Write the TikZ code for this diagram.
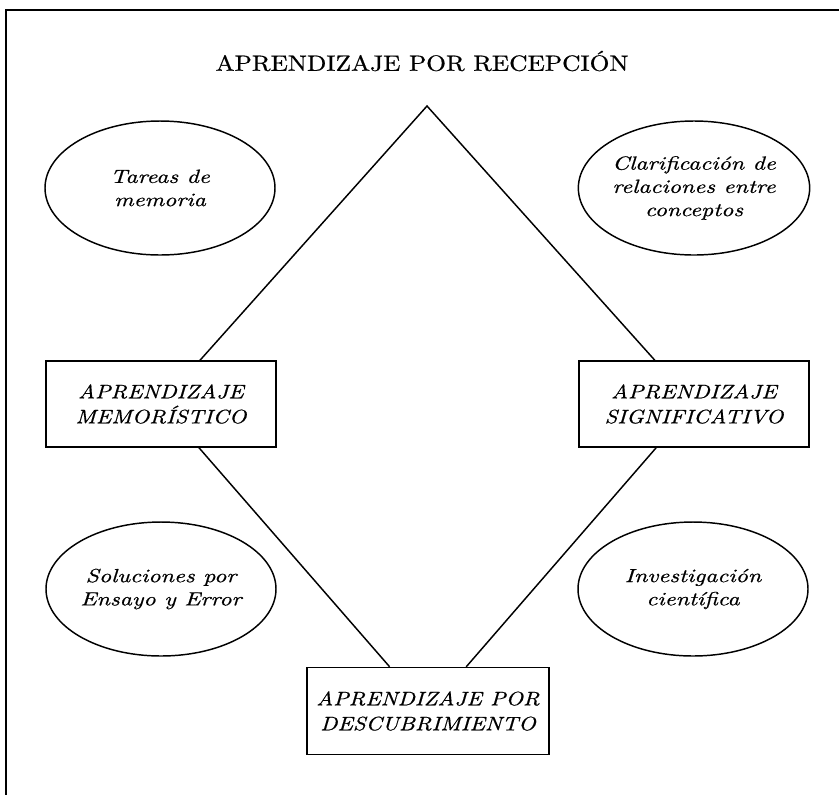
\documentclass[tikz,border=0pt]{standalone}
\usepackage{fontspec}
\newfontfamily\widefont{lmroman10-regular}[Extension=.otf,ItalicFont=lmroman10-italic,FakeStretch=1.25,FakeBold=0.6]
\newfontfamily\boxfont{lmroman10-regular}[Extension=.otf,ItalicFont=lmroman10-italic,FakeStretch=1.17,FakeBold=0.6]
\newfontfamily\titlefont{lmroman10-regular}[Extension=.otf,FakeStretch=1.155,FakeBold=0.6]
\usetikzlibrary{shapes.geometric}
\begin{document}
\begin{tikzpicture}[x=0.75pt,y=-0.75pt,
  conn/.style={draw=black,line width=1.1pt},
  frameline/.style={draw=black,line width=1.6pt},
  oval/.style={ellipse,draw=black,line width=1.1pt,minimum width=172.5pt,minimum height=100.5pt,inner sep=0pt,align=center,
    font=\widefont\fontsize{14.3}{17.4}\selectfont\itshape},
  kbox/.style={rectangle,draw=black,line width=1.1pt,minimum width=172.5pt,minimum height=64.5pt,inner sep=0pt,align=center,
    font=\boxfont\fontsize{14.6}{18.75}\selectfont\itshape},
  titletext/.style={font=\titlefont\fontsize{16.5}{20}\selectfont,inner sep=0pt}]
\useasboundingbox (0,0) rectangle (839,794);
\fill[white] (0,0) rectangle (839,794);
% frame (open at right and bottom)
\coordinate (ftr) at (845,10);
\coordinate (ftl) at (6,10);
\coordinate (fbl) at (6,800);
\draw[frameline] (ftr) -- (ftl) -- (fbl);
% title
\node[titletext] (title) at (422,61) {APRENDIZAJE POR RECEPCIÓN};
% ellipses
\node[oval] (tar) at (160,188) {Tareas de\\memoria};
\node[oval] (cla) at (694,188) {Clarificación de\\relaciones entre\\conceptos};
\node[oval] (sol) at (161,589) {Soluciones por\\Ensayo y Error};
\node[oval] (inv) at (693,589) {Investigación\\científica};
% boxes
\node[kbox] (mem) at (161,404) {APRENDIZAJE\\MEMORÍSTICO};
\node[kbox] (sig) at (694,404) {APRENDIZAJE\\SIGNIFICATIVO};
\node[kbox,minimum width=181.5pt,minimum height=65.25pt] (des) at (428,711) {APRENDIZAJE POR\\DESCUBRIMIENTO};
% diamond
\coordinate (apex) at (427,106);
\draw[conn] (mem) -- (apex) -- (sig);
\draw[conn] (mem) -- (des);
\draw[conn] (sig) -- (des);
\end{tikzpicture}
\end{document}
